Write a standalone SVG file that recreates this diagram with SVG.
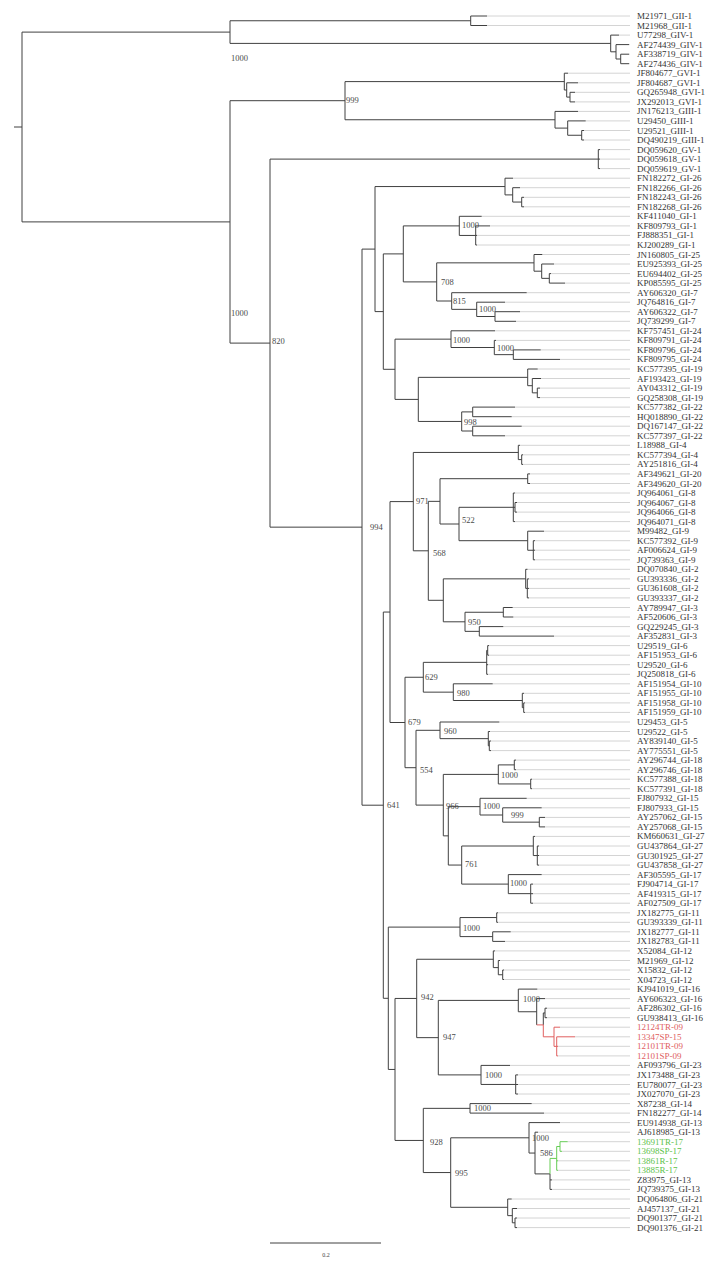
<svg xmlns="http://www.w3.org/2000/svg" width="717" height="1265" viewBox="0 0 717 1265">
<style>
.br{fill:none;stroke:#404040;stroke-width:1}
.rd{fill:none;stroke:#e06060;stroke-width:1}
.gn{fill:none;stroke:#66cc55;stroke-width:1}
.ld{fill:none;stroke:#d4d4d4;stroke-width:1}
text{font-family:"Liberation Serif","Times New Roman",serif}
.lb{font-size:9px;fill:#333}
.lr{font-size:9px;fill:#e06060}
.lg{font-size:9px;fill:#5cc24a}
.bs{font-size:8.5px;fill:#4a4a4a}
</style>
<rect width="717" height="1265" fill="#fff"/>
<g id="connectors">
<path class="ld" d="M487 16H630M487 25.5H630M619 35.1H630M629 44.6H630M629 54.2H630M629 63.7H630M568 73.2H630M578 82.8H630M575 92.3H630M575 101.9H630M578 111.4H630M585.7 120.9H630M584 130.5H630M584 140H630M600 149.6H630M600 159.1H630M600 168.6H630M513 178.2H630M520 187.7H630M524 197.3H630M524 206.8H630M481.7 216.3H630M490 225.9H630M477 235.4H630M477 245H630M542.3 254.5H630M554 264H630M551 273.6H630M565 283.1H630M526.7 292.7H630M505 302.2H630M520 311.7H630M516 321.3H630M495 330.8H630M496 340.4H630M540.7 349.9H630M560 359.4H630M537.7 369H630M541 378.5H630M540 388.1H630M540 397.6H630M515 407.1H630M511.7 416.7H630M521.7 426.2H630M505 435.8H630M520 445.3H630M523 454.8H630M523 464.4H630M530 473.9H630M530 483.5H630M515 493H630M517 502.5H630M517 512.1H630M515 521.6H630M544 531.2H630M535 540.7H630M535 550.2H630M535 559.8H630M527.5 569.3H630M529 578.9H630M529 588.4H630M529 597.9H630M512.7 607.5H630M513.3 617H630M503.3 626.6H630M554 636.1H630M489 645.6H630M489 655.2H630M488 664.7H630M488 674.3H630M492.7 683.8H630M524 693.3H630M525 702.9H630M525 712.4H630M499.3 722H630M490 731.5H630M491 741H630M491 750.6H630M516 760.1H630M516 769.7H630M532 779.2H630M532 788.7H630M526.7 798.3H630M541.7 807.8H630M545 817.4H630M545 826.9H630M535 836.4H630M539 846H630M539 855.5H630M539 865.1H630M541.7 874.6H630M533 884.1H630M533 893.7H630M533 903.2H630M498 912.8H630M498 922.3H630M510.7 931.8H630M505 941.4H630M495 950.9H630M500 960.5H630M504 970H630M504 979.5H630M537.3 989.1H630M545 998.6H630M547 1008.2H630M547 1017.7H630M560 1027.2H630M575 1036.8H630M558 1046.3H630M558 1055.9H630M510 1065.4H630M518 1074.9H630M518 1084.5H630M518 1094H630M531.7 1103.6H630M544 1113.1H630M560 1122.6H630M538 1132.2H630M567.7 1141.7H630M562 1151.3H630M558 1160.8H630M558 1170.3H630M552 1179.9H630M552 1189.4H630M511.7 1199H630M517 1208.5H630M517 1218H630M517 1227.6H630"/>
<path class="br" d="M14 127H22M22 32.1V221.9
M22 32.1H230M230 20.75V43.4
M230 20.75H470.7M470.7 16V25.5M470.7 16H487M470.7 25.5H487
M230 43.4H610.7M610.7 35.1V51.8M610.7 35.1H619M610.7 51.8H616M616 44.6V59M616 44.6H629M616 59H620.7M620.7 54.2V63.7M620.7 54.2H629M620.7 63.7H629
M22 221.9H230M230 100.7V343.1
M230 100.7H345M345 81.6V119.75
M345 81.6H564.3M564.3 73.2V90M564.3 73.2H568M564.3 90H566.7M566.7 82.8V97.1M566.7 82.8H578M566.7 97.1H570M570 92.3V101.9M570 92.3H575M570 101.9H575
M345 119.75H555M555 111.4V128.1M555 111.4H578M555 128.1H567.7M567.7 120.9V135.25M567.7 120.9H585.7M567.7 135.25H581.7M581.7 130.5V140M581.7 130.5H584M581.7 140H584
M230 343.1H270M270 159.1V527.15
M270 159.1H600M598.3 149.6V168.6M598.3 149.6H600M598.3 168.6H600
M270 527.15H362M362 249.1V805.2
M362 249.1H375M375 186.55V311.6
M375 186.55H505M505 178.2V194.9M505 178.2H513M505 194.9H512.7M512.7 187.7V202.05M512.7 187.7H520M512.7 202.05H521.7M521.7 197.3V206.8M521.7 197.3H524M521.7 206.8H524
M375 311.6H383.3M383.3 253.9V369.3
M383.3 253.9H403.3M403.3 225.9V281.9
M403.3 225.9H459.3M459.3 216.3V235.45M459.3 216.3H481.7M459.3 235.45H475.7M475.7 225.9V245M475.7 225.9H490M475.7 235.4H477M475.7 245H477
M403.3 281.9H436.7M436.7 262.85V301
M436.7 262.85H534M534 254.5V271.2M534 254.5H542.3M534 271.2H541.7M541.7 264V278.35M541.7 264H554M541.7 278.35H549.3M549.3 273.6V283.1M549.3 273.6H551M549.3 283.1H565
M436.7 301H451.7M451.7 292.7V309.35M451.7 292.7H526.7M451.7 309.35H476.7M476.7 302.2V316.5M476.7 302.2H505M476.7 316.5H495M495 311.7V321.3M495 311.7H520M495 321.3H516
M383.3 369.3H395M395 339.15V399.4
M395 339.15H451M451 330.8V347.5M451 330.8H495M451 347.5H494.3M494.3 340.4V354.65M494.3 340.4H496M494.3 354.65H513.3M513.3 349.9V359.4M513.3 349.9H540.7M513.3 359.4H560
M395 399.4H418.3M418.3 377.35V421.45
M418.3 377.35H527.7M527.7 369V385.7M527.7 369H537.7M527.7 385.7H532.3M532.3 378.5V392.85M532.3 378.5H541M532.3 392.85H537.3M537.3 388.1V397.6M537.3 388.1H540M537.3 397.6H540
M418.3 421.45H461.7M461.7 411.9V431M461.7 411.9H472.7M472.7 407.1V416.7M472.7 407.1H515M472.7 416.7H511.7M461.7 431H472.7M472.7 426.2V435.8M472.7 426.2H521.7M472.7 435.8H505
M362 805.2H383.3M383.3 612.05V998.3
M383.3 612.05H390M390 501.6V722.5
M390 501.6H413.3M413.3 452.45V550.8
M413.3 452.45H518.3M518.3 445.3V459.6M518.3 445.3H520M518.3 459.6H521.7M521.7 454.8V464.4M521.7 454.8H523M521.7 464.4H523
M413.3 550.8H428.3M428.3 501.35V600.3
M428.3 501.35H440M440 478.7V524
M440 478.7H527.7M527.7 473.9V483.5M527.7 473.9H530M527.7 483.5H530
M440 524H459M459 507.3V540.7
M459 507.3H515M513.3 493V521.6M513.3 493H515M513.3 521.6H515M515 502.5V512.1M515 502.5H517M515 512.1H517
M459 540.7H527.7M527.7 531.2V550.25M527.7 531.2H544M527.7 550.25H533.3M533.3 540.7V559.8M533.3 540.7H535M533.3 550.2H535M533.3 559.8H535
M428.3 600.3H443.3M443.3 578.85V621.8
M443.3 578.85H525.7M525.7 569.3V588.4M525.7 569.3H527.5M525.7 588.4H527.3M527.3 578.9V597.9M527.3 578.9H529M527.3 588.4H529M527.3 597.9H529
M443.3 621.8H465M465 612.25V631.35M465 612.25H503.3M503.3 607.5V617M503.3 607.5H512.7M503.3 617H513.3M465 631.35H479.3M479.3 626.6V636.1M479.3 626.6H503.3M479.3 636.1H554
M390 722.5H405M405 677.25V767.7
M405 677.25H423.3M423.3 662.35V692.15
M423.3 662.35H486.7M486.7 650.4V674.3M486.7 650.4H487.7M487.7 645.6V655.2M487.7 645.6H489M487.7 655.2H489M486.7 664.7H488M486.7 674.3H488
M423.3 692.15H453.3M453.3 683.8V700.5M453.3 683.8H492.7M453.3 700.5H522.3M522.3 693.3V707.65M522.3 693.3H524M522.3 707.65H523.7M523.7 702.9V712.4M523.7 702.9H525M523.7 712.4H525
M405 767.7H416M416 730.3V805.1
M416 730.3H440M440 722V738.65M440 722H499.3M440 738.65H488.3M488.3 731.5V745.8M488.3 731.5H490M488.3 745.8H489.3M489.3 741V750.6M489.3 741H491M489.3 750.6H491
M416 805.1H443.3M443.3 774.4V835.85
M443.3 774.4H498.3M498.3 764.9V783.95M498.3 764.9H514.3M514.3 760.1V769.7M514.3 760.1H516M514.3 769.7H516M498.3 783.95H530.7M530.7 779.2V788.7M530.7 779.2H532M530.7 788.7H532
M443.3 835.85H448.3M448.3 806.65V865.05
M448.3 806.65H480M480 798.3V815M480 798.3H526.7M480 815H502.7M502.7 807.8V822.15M502.7 807.8H541.7M502.7 822.15H539.3M539.3 817.4V826.9M539.3 817.4H545M539.3 826.9H545
M448.3 865.05H461.7M461.7 846V884.1
M461.7 846H533.3M533.3 836.4V855.55M533.3 836.4H535M533.3 855.55H537.3M537.3 846V865.1M537.3 846H539M537.3 855.5H539M537.3 865.1H539
M461.7 884.1H508.3M508.3 874.6V893.65M508.3 874.6H541.7M508.3 893.65H530.7M530.7 884.1V903.2M530.7 884.1H533M530.7 893.7H533M530.7 903.2H533
M383.3 998.3H388.3M388.3 927.1V1069.45
M388.3 927.1H460M460 917.55V936.6M460 917.55H496.7M496.7 912.8V922.3M496.7 912.8H498M496.7 922.3H498M460 936.6H492.7M492.7 931.8V941.4M492.7 931.8H510.7M492.7 941.4H505
M388.3 1069.45H395M395 998.45V1140.45
M395 998.45H416.7M416.7 959.25V1037.65
M416.7 959.25H493.3M493.3 950.9V967.6M493.3 950.9H495M493.3 967.6H498.3M498.3 960.5V974.75M498.3 960.5H500M498.3 974.75H502.7M502.7 970V979.5M502.7 970H504M502.7 979.5H504
M416.7 1037.65H438.3M438.3 1000.4V1074.9
M438.3 1000.4H518.3M518.3 989.1V1011.75M518.3 989.1H537.3M518.3 1011.75H536.7M536.7 998.6V1024.9M536.7 998.6H545M543.3 1012.95V1024.9M543.3 1012.95H545M545 1008.2V1017.7M545 1008.2H547M545 1017.7H547
M438.3 1074.9H481M481 1065.4V1084.45M481 1065.4H510M481 1084.45H515.7M515.7 1074.9V1094M515.7 1074.9H518M515.7 1084.5H518M515.7 1094H518
M395 1140.45H423.3M423.3 1108.35V1172.55
M423.3 1108.35H470M470 1103.6V1113.1M470 1103.6H531.7M470 1113.1H544
M423.3 1172.55H450.7M450.7 1137.8V1207.3
M450.7 1137.8H529M529 1122.6V1153.05M529 1122.6H560M529 1153.05H535M535 1132.2V1173.9M535 1132.2H538M535 1173.9H550M550 1173.9V1189.4M550 1179.9H552M550 1189.4H552
M450.7 1207.3H507.7M507.7 1199V1215.65M507.7 1199H511.7M507.7 1215.65H512.3M512.3 1208.5V1222.8M512.3 1208.5H517M512.3 1222.8H515M515 1218V1227.6M515 1218H517M515 1227.6H517
M270 1243H381"/>
<path class="rd" d="M536.7 1024.9H543.3M543.3 1024.9V1036.8M543.3 1036.8H554M554 1027.2V1046.35M554 1027.2H560M554 1046.35H556.7M556.7 1036.8V1055.9M556.7 1036.8H575M556.7 1046.3H558M556.7 1055.9H558"/>
<path class="gn" d="M550 1158.4V1173.9M550 1158.4H556.7M556.7 1146.5V1170.3M556.7 1146.5H560M560 1141.7V1151.3M560 1141.7H567.7M560 1151.3H562M556.7 1160.8H558M556.7 1170.3H558"/>
</g>
<g id="bootstrap">
<g id="b1"><text class="bs" x="231" y="61">1000</text></g>
<g id="b2"><text class="bs" x="346" y="103">999</text></g>
<g id="b3"><text class="bs" x="231" y="316">1000</text></g>
<g id="b4"><text class="bs" x="272" y="344">820</text></g>
<g id="b5"><text class="bs" x="370" y="530">994</text></g>
<g id="b6"><text class="bs" x="462" y="228">1000</text></g>
<g id="b7"><text class="bs" x="441" y="285">708</text></g>
<g id="b8"><text class="bs" x="453" y="304">815</text></g>
<g id="b9"><text class="bs" x="479" y="312">1000</text></g>
<g id="b10"><text class="bs" x="453" y="343">1000</text></g>
<g id="b11"><text class="bs" x="497" y="351">1000</text></g>
<g id="b12"><text class="bs" x="464" y="425">998</text></g>
<g id="b13"><text class="bs" x="416" y="504">971</text></g>
<g id="b14"><text class="bs" x="462" y="523">522</text></g>
<g id="b15"><text class="bs" x="433" y="556">568</text></g>
<g id="b16"><text class="bs" x="468" y="625">950</text></g>
<g id="b17"><text class="bs" x="425" y="680">629</text></g>
<g id="b18"><text class="bs" x="457" y="696">980</text></g>
<g id="b19"><text class="bs" x="408" y="725">679</text></g>
<g id="b20"><text class="bs" x="444" y="734">960</text></g>
<g id="b21"><text class="bs" x="420" y="773">554</text></g>
<g id="b22"><text class="bs" x="501" y="778">1000</text></g>
<g id="b23"><text class="bs" x="387" y="808">641</text></g>
<g id="b24"><text class="bs" x="446" y="809">966</text></g>
<g id="b25"><text class="bs" x="483" y="809">1000</text></g>
<g id="b26"><text class="bs" x="511" y="818">999</text></g>
<g id="b27"><text class="bs" x="465" y="867">761</text></g>
<g id="b28"><text class="bs" x="510" y="886">1000</text></g>
<g id="b29"><text class="bs" x="463" y="931">1000</text></g>
<g id="b30"><text class="bs" x="421" y="1000">942</text></g>
<g id="b31"><text class="bs" x="523" y="1002">1000</text></g>
<g id="b32"><text class="bs" x="443" y="1040">947</text></g>
<g id="b33"><text class="bs" x="485" y="1078">1000</text></g>
<g id="b34"><text class="bs" x="474" y="1111">1000</text></g>
<g id="b35"><text class="bs" x="532" y="1141">1000</text></g>
<g id="b36"><text class="bs" x="430" y="1145">928</text></g>
<g id="b37"><text class="bs" x="540" y="1156">586</text></g>
<g id="b38"><text class="bs" x="455" y="1176">995</text></g>
</g>
<g id="leaves">
<g id="n1"><text class="lb" x="637" y="19">M21971_GII-1</text></g>
<g id="n2"><text class="lb" x="637" y="28.5">M21968_GII-1</text></g>
<g id="n3"><text class="lb" x="637" y="38.1">U77298_GIV-1</text></g>
<g id="n4"><text class="lb" x="637" y="47.6">AF274439_GIV-1</text></g>
<g id="n5"><text class="lb" x="637" y="57.2">AF338719_GIV-1</text></g>
<g id="n6"><text class="lb" x="637" y="66.7">AF274436_GIV-1</text></g>
<g id="n7"><text class="lb" x="637" y="76.2">JF804677_GVI-1</text></g>
<g id="n8"><text class="lb" x="637" y="85.8">JF804687_GVI-1</text></g>
<g id="n9"><text class="lb" x="637" y="95.3">GQ265948_GVI-1</text></g>
<g id="n10"><text class="lb" x="637" y="104.9">JX292013_GVI-1</text></g>
<g id="n11"><text class="lb" x="637" y="114.4">JN176213_GIII-1</text></g>
<g id="n12"><text class="lb" x="637" y="123.9">U29450_GIII-1</text></g>
<g id="n13"><text class="lb" x="637" y="133.5">U29521_GIII-1</text></g>
<g id="n14"><text class="lb" x="637" y="143">DQ490219_GIII-1</text></g>
<g id="n15"><text class="lb" x="637" y="152.6">DQ059620_GV-1</text></g>
<g id="n16"><text class="lb" x="637" y="162.1">DQ059618_GV-1</text></g>
<g id="n17"><text class="lb" x="637" y="171.6">DQ059619_GV-1</text></g>
<g id="n18"><text class="lb" x="637" y="181.2">FN182272_GI-26</text></g>
<g id="n19"><text class="lb" x="637" y="190.7">FN182266_GI-26</text></g>
<g id="n20"><text class="lb" x="637" y="200.3">FN182243_GI-26</text></g>
<g id="n21"><text class="lb" x="637" y="209.8">FN182268_GI-26</text></g>
<g id="n22"><text class="lb" x="637" y="219.3">KF411040_GI-1</text></g>
<g id="n23"><text class="lb" x="637" y="228.9">KF809793_GI-1</text></g>
<g id="n24"><text class="lb" x="637" y="238.4">FJ888351_GI-1</text></g>
<g id="n25"><text class="lb" x="637" y="248">KJ200289_GI-1</text></g>
<g id="n26"><text class="lb" x="637" y="257.5">JN160805_GI-25</text></g>
<g id="n27"><text class="lb" x="637" y="267">EU925393_GI-25</text></g>
<g id="n28"><text class="lb" x="637" y="276.6">EU694402_GI-25</text></g>
<g id="n29"><text class="lb" x="637" y="286.1">KP085595_GI-25</text></g>
<g id="n30"><text class="lb" x="637" y="295.7">AY606320_GI-7</text></g>
<g id="n31"><text class="lb" x="637" y="305.2">JQ764816_GI-7</text></g>
<g id="n32"><text class="lb" x="637" y="314.7">AY606322_GI-7</text></g>
<g id="n33"><text class="lb" x="637" y="324.3">JQ739299_GI-7</text></g>
<g id="n34"><text class="lb" x="637" y="333.8">KF757451_GI-24</text></g>
<g id="n35"><text class="lb" x="637" y="343.4">KF809791_GI-24</text></g>
<g id="n36"><text class="lb" x="637" y="352.9">KF809796_GI-24</text></g>
<g id="n37"><text class="lb" x="637" y="362.4">KF809795_GI-24</text></g>
<g id="n38"><text class="lb" x="637" y="372">KC577395_GI-19</text></g>
<g id="n39"><text class="lb" x="637" y="381.5">AF193423_GI-19</text></g>
<g id="n40"><text class="lb" x="637" y="391.1">AY043312_GI-19</text></g>
<g id="n41"><text class="lb" x="637" y="400.6">GQ258308_GI-19</text></g>
<g id="n42"><text class="lb" x="637" y="410.1">KC577382_GI-22</text></g>
<g id="n43"><text class="lb" x="637" y="419.7">HQ018890_GI-22</text></g>
<g id="n44"><text class="lb" x="637" y="429.2">DQ167147_GI-22</text></g>
<g id="n45"><text class="lb" x="637" y="438.8">KC577397_GI-22</text></g>
<g id="n46"><text class="lb" x="637" y="448.3">L18988_GI-4</text></g>
<g id="n47"><text class="lb" x="637" y="457.8">KC577394_GI-4</text></g>
<g id="n48"><text class="lb" x="637" y="467.4">AY251816_GI-4</text></g>
<g id="n49"><text class="lb" x="637" y="476.9">AF349621_GI-20</text></g>
<g id="n50"><text class="lb" x="637" y="486.5">AF349620_GI-20</text></g>
<g id="n51"><text class="lb" x="637" y="496">JQ964061_GI-8</text></g>
<g id="n52"><text class="lb" x="637" y="505.5">JQ964067_GI-8</text></g>
<g id="n53"><text class="lb" x="637" y="515.1">JQ964066_GI-8</text></g>
<g id="n54"><text class="lb" x="637" y="524.6">JQ964071_GI-8</text></g>
<g id="n55"><text class="lb" x="637" y="534.2">M99482_GI-9</text></g>
<g id="n56"><text class="lb" x="637" y="543.7">KC577392_GI-9</text></g>
<g id="n57"><text class="lb" x="637" y="553.2">AF006624_GI-9</text></g>
<g id="n58"><text class="lb" x="637" y="562.8">JQ739363_GI-9</text></g>
<g id="n59"><text class="lb" x="637" y="572.3">DQ070840_GI-2</text></g>
<g id="n60"><text class="lb" x="637" y="581.9">GU393336_GI-2</text></g>
<g id="n61"><text class="lb" x="637" y="591.4">GU361608_GI-2</text></g>
<g id="n62"><text class="lb" x="637" y="600.9">GU393337_GI-2</text></g>
<g id="n63"><text class="lb" x="637" y="610.5">AY789947_GI-3</text></g>
<g id="n64"><text class="lb" x="637" y="620">AF520606_GI-3</text></g>
<g id="n65"><text class="lb" x="637" y="629.6">GQ229245_GI-3</text></g>
<g id="n66"><text class="lb" x="637" y="639.1">AF352831_GI-3</text></g>
<g id="n67"><text class="lb" x="637" y="648.6">U29519_GI-6</text></g>
<g id="n68"><text class="lb" x="637" y="658.2">AF151953_GI-6</text></g>
<g id="n69"><text class="lb" x="637" y="667.7">U29520_GI-6</text></g>
<g id="n70"><text class="lb" x="637" y="677.3">JQ250818_GI-6</text></g>
<g id="n71"><text class="lb" x="637" y="686.8">AF151954_GI-10</text></g>
<g id="n72"><text class="lb" x="637" y="696.3">AF151955_GI-10</text></g>
<g id="n73"><text class="lb" x="637" y="705.9">AF151958_GI-10</text></g>
<g id="n74"><text class="lb" x="637" y="715.4">AF151959_GI-10</text></g>
<g id="n75"><text class="lb" x="637" y="725">U29453_GI-5</text></g>
<g id="n76"><text class="lb" x="637" y="734.5">U29522_GI-5</text></g>
<g id="n77"><text class="lb" x="637" y="744">AY839140_GI-5</text></g>
<g id="n78"><text class="lb" x="637" y="753.6">AY775551_GI-5</text></g>
<g id="n79"><text class="lb" x="637" y="763.1">AY296744_GI-18</text></g>
<g id="n80"><text class="lb" x="637" y="772.7">AY296746_GI-18</text></g>
<g id="n81"><text class="lb" x="637" y="782.2">KC577388_GI-18</text></g>
<g id="n82"><text class="lb" x="637" y="791.7">KC577391_GI-18</text></g>
<g id="n83"><text class="lb" x="637" y="801.3">FJ807932_GI-15</text></g>
<g id="n84"><text class="lb" x="637" y="810.8">FJ807933_GI-15</text></g>
<g id="n85"><text class="lb" x="637" y="820.4">AY257062_GI-15</text></g>
<g id="n86"><text class="lb" x="637" y="829.9">AY257068_GI-15</text></g>
<g id="n87"><text class="lb" x="637" y="839.4">KM660631_GI-27</text></g>
<g id="n88"><text class="lb" x="637" y="849">GU437864_GI-27</text></g>
<g id="n89"><text class="lb" x="637" y="858.5">GU301925_GI-27</text></g>
<g id="n90"><text class="lb" x="637" y="868.1">GU437858_GI-27</text></g>
<g id="n91"><text class="lb" x="637" y="877.6">AF305595_GI-17</text></g>
<g id="n92"><text class="lb" x="637" y="887.1">FJ904714_GI-17</text></g>
<g id="n93"><text class="lb" x="637" y="896.7">AF419315_GI-17</text></g>
<g id="n94"><text class="lb" x="637" y="906.2">AF027509_GI-17</text></g>
<g id="n95"><text class="lb" x="637" y="915.8">JX182775_GI-11</text></g>
<g id="n96"><text class="lb" x="637" y="925.3">GU393339_GI-11</text></g>
<g id="n97"><text class="lb" x="637" y="934.8">JX182777_GI-11</text></g>
<g id="n98"><text class="lb" x="637" y="944.4">JX182783_GI-11</text></g>
<g id="n99"><text class="lb" x="637" y="953.9">X52084_GI-12</text></g>
<g id="n100"><text class="lb" x="637" y="963.5">M21969_GI-12</text></g>
<g id="n101"><text class="lb" x="637" y="973">X15832_GI-12</text></g>
<g id="n102"><text class="lb" x="637" y="982.5">X04723_GI-12</text></g>
<g id="n103"><text class="lb" x="637" y="992.1">KJ941019_GI-16</text></g>
<g id="n104"><text class="lb" x="637" y="1001.6">AY606323_GI-16</text></g>
<g id="n105"><text class="lb" x="637" y="1011.2">AF286302_GI-16</text></g>
<g id="n106"><text class="lb" x="637" y="1020.7">GU938413_GI-16</text></g>
<g id="n107"><text class="lr" x="637" y="1030.2">12124TR-09</text></g>
<g id="n108"><text class="lr" x="637" y="1039.8">13347SP-15</text></g>
<g id="n109"><text class="lr" x="637" y="1049.3">12101TR-09</text></g>
<g id="n110"><text class="lr" x="637" y="1058.9">12101SP-09</text></g>
<g id="n111"><text class="lb" x="637" y="1068.4">AF093796_GI-23</text></g>
<g id="n112"><text class="lb" x="637" y="1077.9">JX173488_GI-23</text></g>
<g id="n113"><text class="lb" x="637" y="1087.5">EU780077_GI-23</text></g>
<g id="n114"><text class="lb" x="637" y="1097">JX027070_GI-23</text></g>
<g id="n115"><text class="lb" x="637" y="1106.6">X87238_GI-14</text></g>
<g id="n116"><text class="lb" x="637" y="1116.1">FN182277_GI-14</text></g>
<g id="n117"><text class="lb" x="637" y="1125.6">EU914938_GI-13</text></g>
<g id="n118"><text class="lb" x="637" y="1135.2">AJ618985_GI-13</text></g>
<g id="n119"><text class="lg" x="637" y="1144.7">13691TR-17</text></g>
<g id="n120"><text class="lg" x="637" y="1154.3">13698SP-17</text></g>
<g id="n121"><text class="lg" x="637" y="1163.8">13861R-17</text></g>
<g id="n122"><text class="lg" x="637" y="1173.3">13885R-17</text></g>
<g id="n123"><text class="lb" x="637" y="1182.9">Z83975_GI-13</text></g>
<g id="n124"><text class="lb" x="637" y="1192.4">JQ739375_GI-13</text></g>
<g id="n125"><text class="lb" x="637" y="1202">DQ064806_GI-21</text></g>
<g id="n126"><text class="lb" x="637" y="1211.5">AJ457137_GI-21</text></g>
<g id="n127"><text class="lb" x="637" y="1221">DQ901377_GI-21</text></g>
<g id="n128"><text class="lb" x="637" y="1230.6">DQ901376_GI-21</text></g>
</g>
<g id="scalebar"><text x="326" y="1257" font-size="6" fill="#444" text-anchor="middle" font-family="Liberation Serif, serif">0.2</text></g>
</svg>
